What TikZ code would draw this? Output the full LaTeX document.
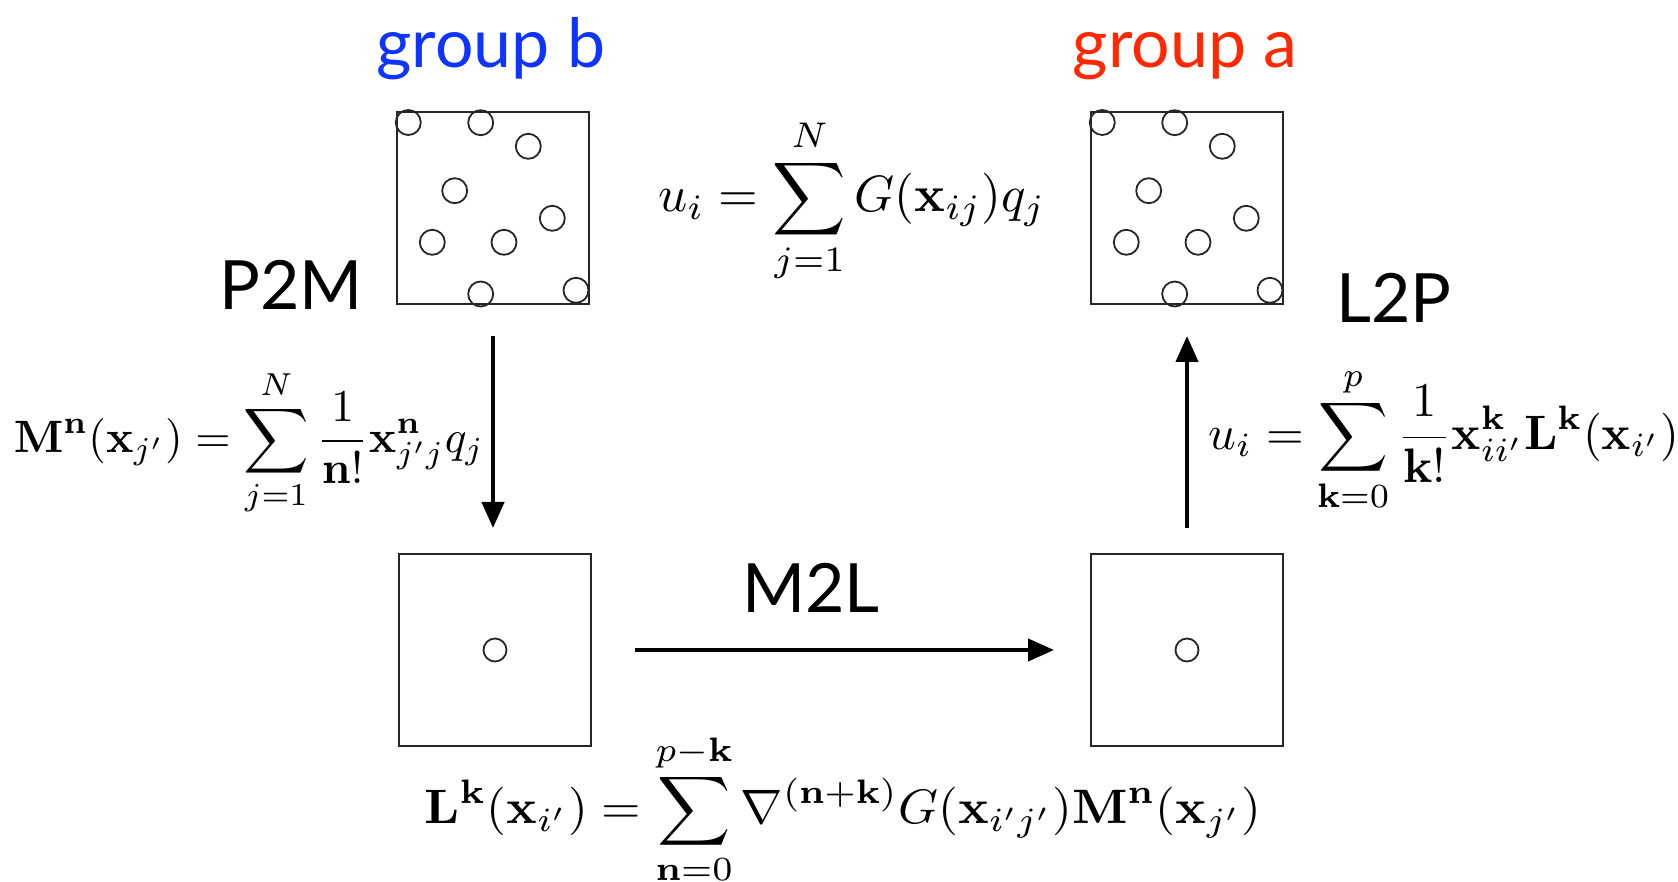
\documentclass[tikz,border=0pt]{standalone}
\usepackage{amsmath}
\usepackage{exscale}
\usepackage[no-math]{fontspec}
\newfontfamily\labelfont{Lato}
\usetikzlibrary{arrows.meta,calc}
\definecolor{grpblue}{RGB}{16,52,255}
\definecolor{grpred}{RGB}{255,40,0}
\tikzset{
  box/.style={draw=black!85, line width=1pt, minimum size=96pt, inner sep=0pt},
  pt/.style={draw=black!85, line width=0.9pt, circle, minimum size=12.5pt, inner sep=0pt},
  cpt/.style={draw=black!85, line width=0.9pt, circle, minimum size=11.5pt, inner sep=0pt},
  lbl/.style={font=\labelfont\fontsize{34}{40}\selectfont, anchor=base, inner sep=0pt},
  eq/.style={font=\normalsize, inner sep=0pt},
  arr/.style={line width=2.1pt, -{Triangle[length=13pt,width=11pt]}},
}
\begin{document}
\begin{tikzpicture}[x=0.5pt,y=-0.5pt]
\useasboundingbox (0,0) rectangle (1678,882);
% boxes
\node[box] (tl) at (493,208) {};
\node[box] (tr) at (1187,208) {};
\node[box] (bl) at (495,650) {};
\node[box] (br) at (1187,650) {};
% particles
\foreach \b in {tl,tr}{
  \foreach \dx/\dy in {12.3/11.5, 84.7/11.7, 132.3/35.3, 58.7/79.7, 156.3/107.3, 36.3/131.3, 108/131.3, 84.7/183, 180/179.3}{
    \node[pt] at ($(\b.north west)+(\dx,\dy)$) {};
  }
}
\node[cpt] (mc) at (bl) {};
\node[cpt] (lc) at (br) {};
% labels
\node[lbl, text=grpblue] (gb) at (491,68) {group b};
\node[lbl, text=grpred] (ga) at (1185,68) {group a};
\node[lbl] (p2m) at (291,310) {P2M};
\node[lbl] (l2p) at (1394,323) {L2P};
\node[lbl] (m2l) at (811,612) {M2L};
% arrows
\draw[arr, shorten <=15.5pt, shorten >=12.5pt] (tl.south) -- (tl.south |- bl.north);
\draw[arr, shorten <=12.5pt, shorten >=15.5pt] (br.north) -- (tr.south);
\draw[arr, shorten <=21.5pt, shorten >=18pt] (bl.east) -- (br.west);
% equations
\node[eq] (e0) at (852,201) {\scalebox{2.55}{$\displaystyle u_i = \sum_{j=1}^{N} G(\mathbf{x}_{ij})q_j$}};
\node[eq] (e1) at (249,443) {\scalebox{2.27}{$\displaystyle \mathbf{M}^{\mathbf{n}}(\mathbf{x}_{j'}) = \sum_{j=1}^{N}\frac{1}{\mathbf{n}!}\mathbf{x}^{\mathbf{n}}_{j'j}q_j$}};
\node[eq] (e2) at (1444,440) {\scalebox{2.42}{$\displaystyle u_i = \sum_{\mathbf{k}=0}^{p}\frac{1}{\mathbf{k}!}\mathbf{x}^{\mathbf{k}}_{ii'}\mathbf{L}^{\mathbf{k}}(\mathbf{x}_{i'})$}};
\node[eq] (e3) at (843,809) {\scalebox{2.54}[2.42]{$\displaystyle \mathbf{L}^{\mathbf{k}}(\mathbf{x}_{i'}) = \sum_{\mathbf{n}=0}^{p-\mathbf{k}}\nabla^{(\mathbf{n}+\mathbf{k})}G(\mathbf{x}_{i'j'})\mathbf{M}^{\mathbf{n}}(\mathbf{x}_{j'})$}};
\end{tikzpicture}
\end{document}
